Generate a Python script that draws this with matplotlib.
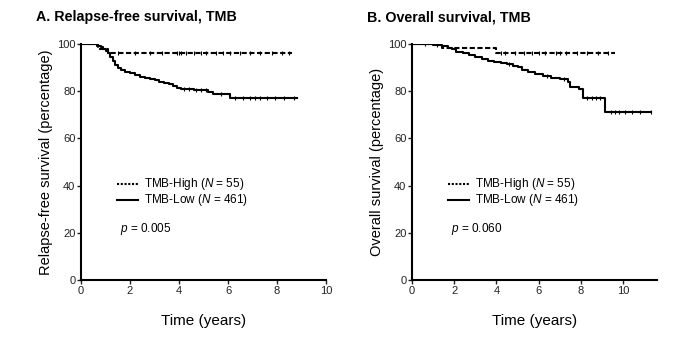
import numpy as np
import matplotlib
matplotlib.use("Agg")
import matplotlib.pyplot as plt

plt.rcParams['font.family'] = ['Liberation Sans', 'DejaVu Sans']
plt.rcParams['mathtext.fontset'] = 'custom'
plt.rcParams['mathtext.it'] = 'Liberation Sans:italic'
plt.rcParams['mathtext.rm'] = 'Liberation Sans'

# Relapse-free survival (panel A)
rfs_high_t = [0, 0.7, 1.1]
rfs_high_s = [100, 98.0, 96.3]
rfs_high_end = 8.6
rfs_high_cens = [1.5, 2.2, 2.8, 3.3, 3.9, 4.0, 4.1, 4.3, 4.6, 4.9, 5.1, 5.5, 5.8, 6.1, 6.5, 6.9, 7.3, 7.8, 8.2, 8.5]

rfs_low_t = [0, 0.65, 0.8, 0.9, 1.0, 1.1, 1.2, 1.3, 1.4, 1.5, 1.65, 1.8, 2.0, 2.2, 2.4, 2.6,
             2.8, 3.0, 3.2, 3.4, 3.6, 3.75, 3.9, 4.1, 4.6, 5.0, 5.2, 5.4, 6.1]
rfs_low_s = [100, 99.3, 98.6, 97.8, 97.0, 96.0, 94.5, 92.8, 91.3, 90.0, 89.0, 88.3, 87.6, 86.9, 86.2, 85.7,
             85.2, 84.6, 84.1, 83.6, 82.9, 82.0, 81.4, 81.0, 80.7, 80.3, 79.5, 78.7, 77.2]
rfs_low_end = 8.8
rfs_low_cens = [4.2, 4.4, 4.7, 4.9, 5.1, 5.7, 6.3, 6.6, 6.9, 7.1, 7.3, 7.6, 7.9, 8.3, 8.7]

# Overall survival (panel B)
os_high_t = [0, 1.4, 4.0]
os_high_s = [100, 98.2, 96.3]
os_high_end = 9.6
os_high_cens = [1.2, 4.2, 4.4, 4.9, 5.3, 5.7, 6.0, 6.3, 6.8, 7.0, 7.3, 7.8, 8.3, 8.8, 9.3]

os_low_t = [0, 1.0, 1.4, 1.7, 1.9, 2.1, 2.4, 2.7, 3.0, 3.3, 3.6, 3.9, 4.2, 4.5, 4.8, 5.0, 5.2,
            5.5, 5.8, 6.2, 6.6, 7.0, 7.4, 7.5, 7.9, 8.1, 9.16]
os_low_s = [100, 99.6, 99.1, 98.4, 97.8, 96.8, 96.0, 95.2, 94.3, 93.6, 92.9, 92.3, 91.9, 91.4, 90.8, 90.1, 89.1,
            88.2, 87.4, 86.5, 85.8, 85.0, 83.8, 81.6, 80.8, 77.3, 71.3]
os_low_end = 11.3
os_low_cens = [0.6, 1.2, 4.6, 6.4, 7.2, 8.3, 8.5, 8.7, 8.9, 9.4, 9.6, 9.8, 10.1, 10.4, 10.8, 11.3]

panels = [
    dict(title='A. Relapse-free survival, TMB', ylabel='Relapse-free survival (percentage)',
         xmax=10, ptxt='0.005',
         high=(rfs_high_t, rfs_high_s, rfs_high_end, rfs_high_cens),
         low=(rfs_low_t, rfs_low_s, rfs_low_end, rfs_low_cens)),
    dict(title='B. Overall survival, TMB', ylabel='Overall survival (percentage)',
         xmax=11.6, ptxt='0.060',
         high=(os_high_t, os_high_s, os_high_end, os_high_cens),
         low=(os_low_t, os_low_s, os_low_end, os_low_cens)),
]

W, H = 693, 339
fig = plt.figure(figsize=(W / 100, H / 100), dpi=100)
lefts = [81, 412]


def km(ax, t, s, end, cens, ls):
    tt = list(t) + [end]
    ss = list(s) + [s[-1]]
    ax.step(tt, ss, where='post', color='black', lw=1.5, ls=ls)
    cv = [ss[np.searchsorted(tt, c, side='right') - 1] for c in cens]
    ax.plot(cens, cv, ls='none', marker='|', ms=3, mew=0.8, color='black')


for i, p in enumerate(panels):
    x0 = lefts[i]
    ax = fig.add_axes([x0 / W, 1 - 280 / H, 245 / W, 236 / H])
    ax.set_xlim(0, p['xmax'])
    ax.set_ylim(0, 100)
    km(ax, *p['low'], ls='-')
    km(ax, *p['high'], ls=(0, (2.5, 1.2)))
    for sp in ('top', 'right'):
        ax.spines[sp].set_visible(False)
    for sp in ('left', 'bottom'):
        ax.spines[sp].set_linewidth(1.5)
    ax.set_xticks([0, 2, 4, 6, 8, 10])
    ax.set_yticks([0, 20, 40, 60, 80, 100])
    ax.tick_params(labelsize=8, length=3, width=1, pad=1, colors='#222222')
    ax.set_xlabel('Time (years)', fontsize=11, labelpad=13)
    ax.set_ylabel(p['ylabel'], fontsize=10.5, labelpad=3)
    ax.patch.set_alpha(0)
    fig.text((x0 - 45) / W, 1 - 17 / H, p['title'], fontsize=10.3, fontweight='bold', va='center')

    # legend drawn by hand in axes coordinates
    lx = 36 / 245
    ax.plot([lx, lx + 21 / 245], [0.405, 0.405], transform=ax.transAxes,
            color='black', lw=1.5, ls=(0, (1, 0.8)), clip_on=False)
    ax.plot([lx, lx + 21 / 245], [0.34, 0.34], transform=ax.transAxes,
            color='black', lw=1.5, clip_on=False)
    ax.text(lx + 27 / 245, 0.405, 'TMB-High ($\\it{N}$ = 55)', transform=ax.transAxes,
            fontsize=8.5, va='center')
    ax.text(lx + 27 / 245, 0.34, 'TMB-Low ($\\it{N}$ = 461)', transform=ax.transAxes,
            fontsize=8.5, va='center')
    ax.text(lx + 3 / 245, 0.215, '$\\it{p}$ = ' + p['ptxt'], transform=ax.transAxes,
            fontsize=8.5, va='center')

fig.savefig('out.png', dpi=100)
